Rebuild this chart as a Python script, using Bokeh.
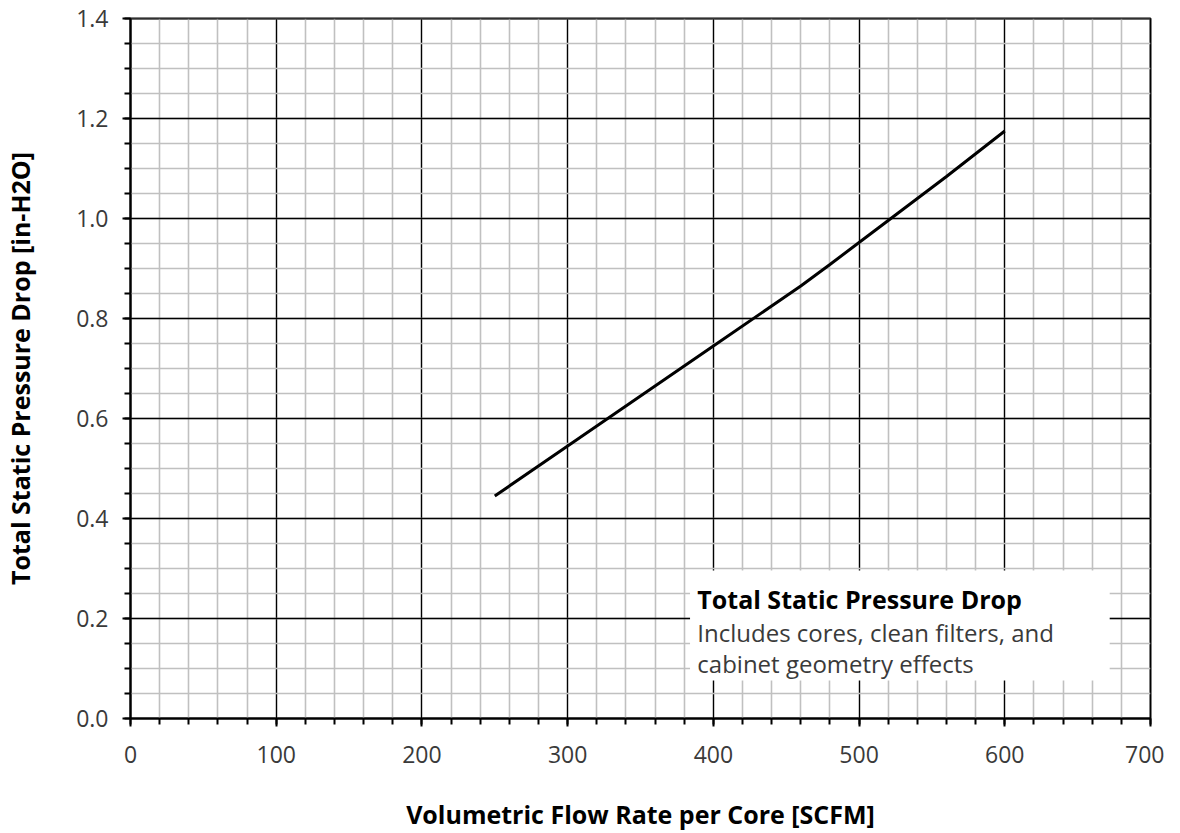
from bokeh.plotting import figure
from bokeh.models import (Range1d, SingleIntervalTicker, NumeralTickFormatter,
                          BoxAnnotation, Label, ColumnDataSource)
from bokeh.embed import file_html
from bokeh.resources import INLINE

# ---- data ----
flow_scfm = [250, 300, 350, 400, 460, 480, 500, 520, 560, 600]
pressure_drop = [0.445, 0.545, 0.645, 0.745, 0.865, 0.908, 0.952, 0.996, 1.084, 1.175]

x_label = "Volumetric Flow Rate per Core [SCFM]"
y_label = "Total Static Pressure Drop [in-H2O]"
note_title = "Total Static Pressure Drop"
note_line1 = "Includes cores, clean filters, and"
note_line2 = "cabinet geometry effects"

TICK_FONT = "Open Sans"
LABEL_FONT = "Open Sans"
TICK_COLOR = "#3a3a3a"

p = figure(width=1164, height=833, output_backend="svg", toolbar_location=None,
           x_range=Range1d(0, 700), y_range=Range1d(0, 1.4000001),
           min_border_left=128, min_border_right=14, min_border_top=18,
           min_border_bottom=115)
p.background_fill_color = "white"
p.border_fill_color = "white"
p.outline_line_color = "black"
p.outline_line_width = 2

# axes
p.xaxis.ticker = SingleIntervalTicker(interval=100, num_minor_ticks=5)
p.yaxis.ticker = SingleIntervalTicker(interval=0.2, num_minor_ticks=4)
p.yaxis.formatter = NumeralTickFormatter(format="0.0")
for ax in (p.xaxis, p.yaxis):
    ax.axis_line_color = "black"
    ax.axis_line_width = 2
    ax.major_tick_line_color = "black"
    ax.major_tick_line_width = 2
    ax.minor_tick_line_color = "black"
    ax.minor_tick_line_width = 2
    ax.major_tick_in = 0
    ax.minor_tick_in = 0
    ax.major_tick_out = 8
    ax.minor_tick_out = 6
    ax.major_label_text_font = TICK_FONT
    ax.major_label_text_font_size = "23px"
    ax.major_label_text_color = TICK_COLOR
    ax.axis_label_text_font = LABEL_FONT
    ax.axis_label_text_font_style = "bold"
    ax.axis_label_text_font_size = "25px"
    ax.axis_label_text_color = "black"

p.xaxis.axis_label = x_label
p.yaxis.axis_label = y_label
p.xaxis.major_label_standoff = 19
p.yaxis.major_label_standoff = 14
p.xaxis.axis_label_standoff = 31
p.yaxis.axis_label_standoff = 36

# grids
for g in (p.xgrid, p.ygrid):
    g.grid_line_color = "black"
    g.grid_line_width = 1.3
    g.grid_line_alpha = 1
    g.minor_grid_line_color = "#c0c0c0"
    g.minor_grid_line_width = 1.6
    g.level = "underlay"

src = ColumnDataSource(dict(x=flow_scfm, y=pressure_drop))
p.line("x", "y", source=src, line_color="black", line_width=3)

# note box
box = BoxAnnotation(left=384, right=672, bottom=0.076, top=0.296,
                    fill_color="white", fill_alpha=1.0, line_color=None)
p.add_layout(box)
p.add_layout(Label(x=389, y=0.24, text=note_title, text_font=LABEL_FONT,
                   text_font_style="bold", text_font_size="25px",
                   text_color="black", text_baseline="alphabetic"))
p.add_layout(Label(x=389, y=0.172, text=note_line1, text_font=TICK_FONT,
                   text_font_size="24px", text_color=TICK_COLOR,
                   text_baseline="alphabetic"))
p.add_layout(Label(x=389, y=0.11, text=note_line2, text_font=TICK_FONT,
                   text_font_size="24px", text_color=TICK_COLOR,
                   text_baseline="alphabetic"))

open("out.html", "w").write(file_html(p, INLINE))
